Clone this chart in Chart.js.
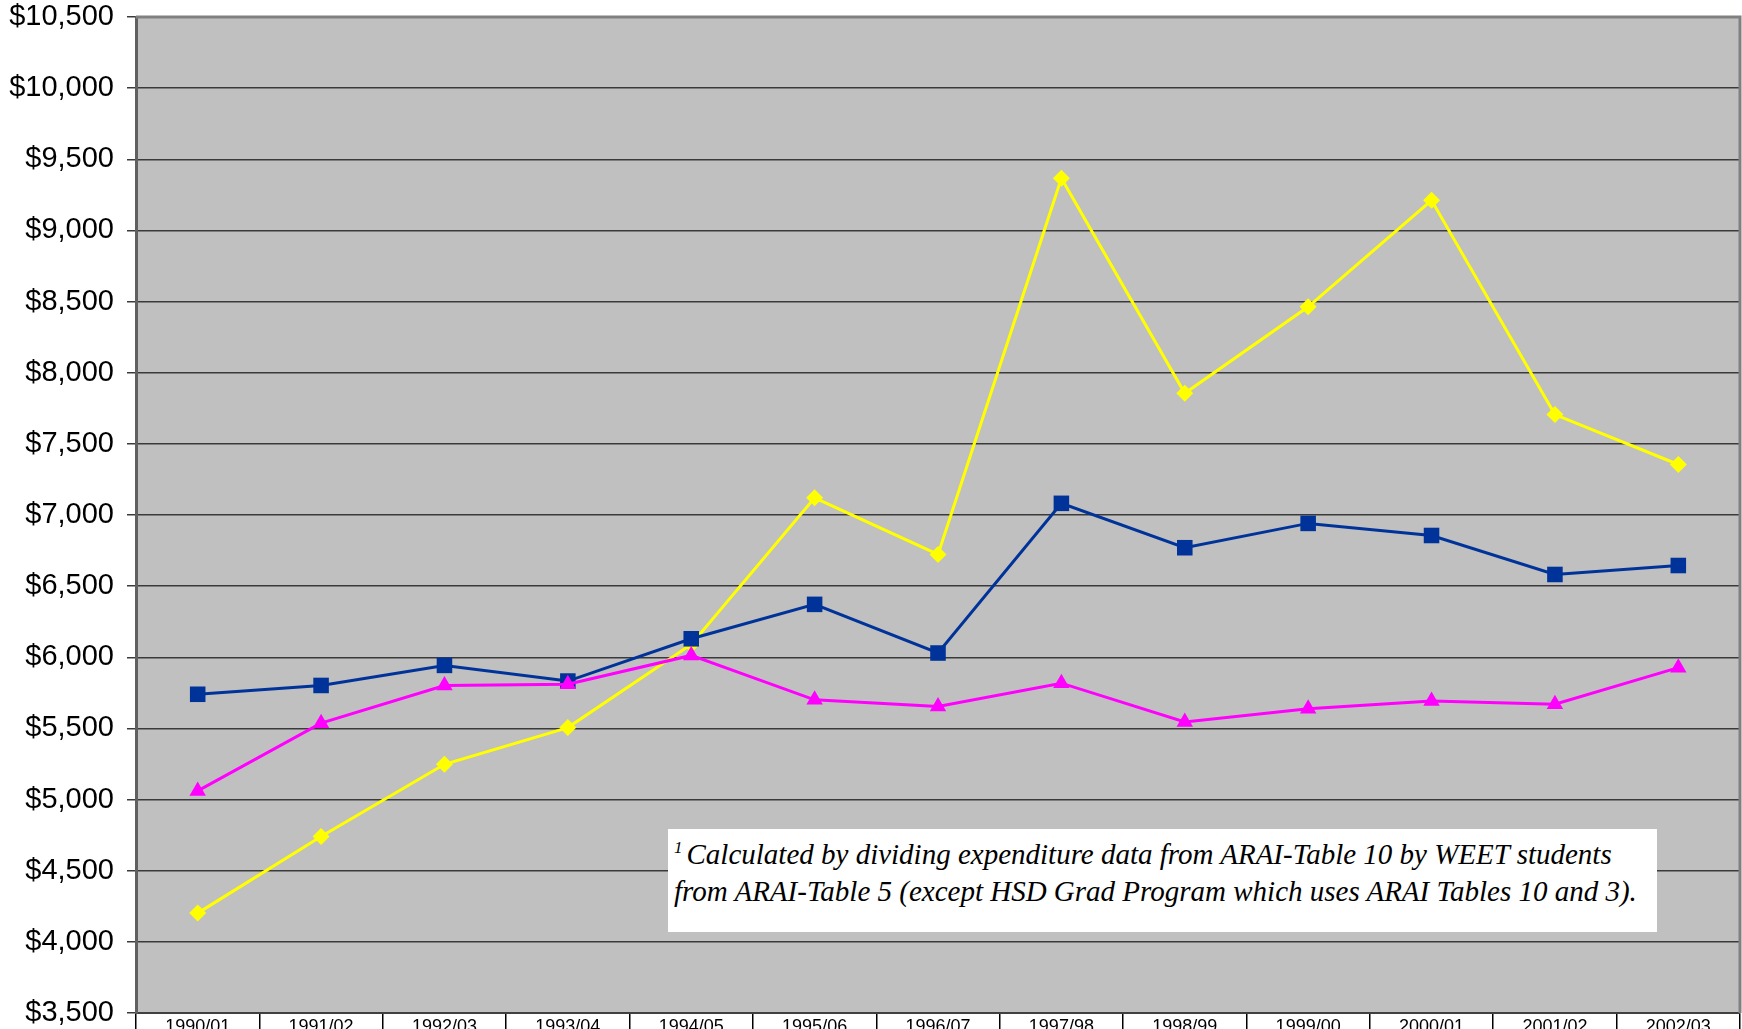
<!DOCTYPE html>
<html>
<head>
<meta charset="utf-8">
<title>Expenditure per WEET student</title>
<script src="https://cdn.jsdelivr.net/npm/chart.js@4.4.1/dist/chart.umd.min.js"></script>
<style>
  html, body { margin: 0; padding: 0; background: #fff; overflow: hidden; }
  #wrap { position: relative; width: 1751px; height: 1060px; }
  #nota {
    position: absolute;
    left: 668px; top: 829px;
    width: 977px; height: 96px;
    padding: 7px 6px 0 6px;
    background: #fff;
    font-family: 'Liberation Serif', 'Times New Roman', serif;
    font-style: italic;
    font-size: 29px;
    line-height: 37px;
    color: #000;
    white-space: nowrap;
  }
  #nota sup { font-size: 17px; line-height: 0; vertical-align: 11px; margin-right: 4px; }
</style>
</head>
<body>
<div id="wrap">
  <canvas id="grafico"></canvas>
  <div id="nota"><sup>1</sup>Calculated by dividing expenditure data from ARAI-Table 10 by WEET students<br>from ARAI-Table 5 (except HSD Grad Program which uses ARAI Tables 10 and 3).</div>
</div>
<script>
// Anos letivos (eixo X)
const anos = ['1990/01', '1991/02', '1992/03', '1993/04', '1994/05', '1995/06', '1996/07',
  '1997/98', '1998/99', '1999/00', '2000/01', '2001/02', '2002/03'];

// Valores (dolares por estudante)
const serieAzul = [5740, 5802, 5943, 5833, 6130, 6372, 6030, 7082, 6770, 6941, 6856, 6582, 6645];
const serieMagenta = [5061, 5537, 5802, 5810, 6013, 5701, 5654, 5818, 5545, 5638, 5693, 5670, 5927];
const serieAmarela = [4202, 4741, 5248, 5506, 6090, 7121, 6723, 9367, 7855, 8463, 9212, 7706, 7355];

// Limites do eixo Y
const yMin = 3500;
const yMax = 10500;
const yPasso = 500;

/**
 * Formata valor como dolar sem centavos
 */
function formatarDolar(valor) {
  return '$' + Number(valor).toLocaleString('en-US');
}

// Fundo cinza da area do grafico e moldura
const fundoPlot = {
  id: 'fundoPlot',
  beforeDraw(chart) {
    const { ctx, chartArea: a } = chart;
    ctx.save();
    ctx.fillStyle = '#c0c0c0';
    ctx.fillRect(a.left, a.top, a.right - a.left, a.bottom - a.top);
    ctx.restore();
  },
  beforeDatasetsDraw(chart) {
    const { ctx, chartArea: a } = chart;
    ctx.save();
    ctx.strokeStyle = '#808080';
    ctx.lineWidth = 3;
    ctx.beginPath();
    ctx.moveTo(a.left, a.top);
    ctx.lineTo(a.right, a.top);
    ctx.lineTo(a.right, a.bottom);
    ctx.stroke();
    ctx.restore();
  }
};

const ctx = document.getElementById('grafico').getContext('2d');
const grafico = new Chart(ctx, {
  type: 'line',
  data: {
    labels: anos,
    datasets: [
      {
        label: 'Azul',
        data: serieAzul,
        borderColor: '#003399',
        backgroundColor: '#003399',
        borderWidth: 3,
        pointStyle: 'rect',
        pointRadius: 11,
        pointBorderWidth: 0,
        tension: 0,
        order: 2
      },
      {
        label: 'Magenta',
        data: serieMagenta,
        borderColor: '#ff00ff',
        backgroundColor: '#ff00ff',
        borderWidth: 3,
        pointStyle: 'triangle',
        pointRadius: 9.5,
        pointBorderWidth: 0,
        tension: 0,
        order: 1
      },
      {
        label: 'Amarela',
        data: serieAmarela,
        borderColor: '#ffff00',
        backgroundColor: '#ffff00',
        borderWidth: 3,
        pointStyle: 'rectRot',
        pointRadius: 8.5,
        pointBorderWidth: 0,
        tension: 0,
        order: 3
      }
    ]
  },
  options: {
    responsive: true,
    maintainAspectRatio: false,
    animation: false,
    layout: { padding: 0 },
    plugins: {
      legend: { display: false },
      tooltip: { enabled: false }
    },
    scales: {
      x: {
        offset: true,
        grid: {
          offset: true,
          drawOnChartArea: false,
          drawTicks: true,
          tickLength: 30,
          color: '#000',
          lineWidth: 1.5
        },
        border: { color: '#404040', width: 2 },
        ticks: {
          color: '#000',
          padding: -27,
          maxRotation: 0,
          autoSkip: false,
          font: { family: "'Liberation Sans', Arial, sans-serif", size: 18 }
        },
        afterFit(scale) {
          scale.height = 47;
          scale.paddingLeft = 0;
          scale.paddingRight = 2;
        }
      },
      y: {
        min: yMin,
        max: yMax,
        ticks: {
          stepSize: yPasso,
          color: '#000',
          padding: 13,
          font: { family: "'Liberation Sans', Arial, sans-serif", size: 29 },
          callback: function(valor) { return formatarDolar(valor); }
        },
        grid: {
          color: '#3a3a3a',
          lineWidth: 1.5,
          tickLength: 9
        },
        border: { color: '#606060', width: 3 },
        afterFit(scale) {
          scale.width = 136;
          scale.paddingTop = 17;
          scale.paddingBottom = 0;
        }
      }
    }
  },
  plugins: [fundoPlot]
});
</script>
</body>
</html>
